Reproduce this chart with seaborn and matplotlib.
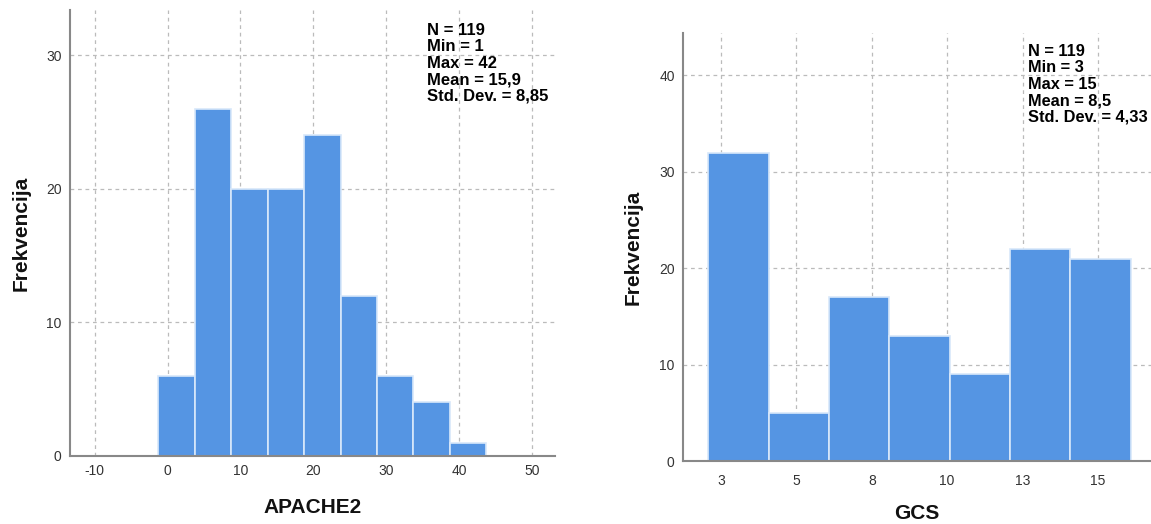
import numpy as np
import matplotlib
matplotlib.use("Agg")
import matplotlib.pyplot as plt
import seaborn as sns

sns.set_style("white")
plt.rcParams['font.family'] = ['Liberation Sans', 'DejaVu Sans']
plt.rcParams['axes.unicode_minus'] = False

# APACHE2 histogram (bin width 5)
apache_edges = [-1.25, 3.75, 8.75, 13.75, 18.75, 23.75, 28.75, 33.75, 38.75, 43.75]
apache_counts = [6, 26, 20, 20, 24, 12, 6, 4, 1]
apache_ticks = [-10, 0, 10, 20, 30, 40, 50]
apache_stats = "N = 119\nMin = 1\nMax = 42\nMean = 15,9\nStd. Dev. = 8,85"

# GCS histogram
gcs_edges = [2.6, 4.52, 6.44, 8.36, 10.28, 12.2, 14.12, 16.04]
gcs_counts = [32, 5, 17, 13, 9, 22, 21]
gcs_ticks = [3, 5.4, 7.8, 10.2, 12.6, 15]
gcs_ticklabels = ["3", "5", "8", "10", "13", "15"]
gcs_stats = "N = 119\nMin = 3\nMax = 15\nMean = 8,5\nStd. Dev. = 4,33"

bar_color = "#5595E3"
grid_kw = dict(color="#BBBBBB", linestyle=(0, (3, 3)), linewidth=0.9)

fig = plt.figure(figsize=(11.51, 5.24), dpi=100)
ax1 = fig.add_axes([0.0608, 0.130, 0.4214, 0.851])
ax2 = fig.add_axes([0.5934, 0.120, 0.4066, 0.817])


def draw(ax, edges, counts, xlim, ylim, xticks, yticks, xlabel, stats, stats_xy,
         stats_size, xpad, xlabelpad, ylabelpad, xticklabels=None):
    centers = [(edges[i] + edges[i + 1]) / 2 for i in range(len(counts))]
    sns.histplot(x=centers, weights=counts, bins=edges, ax=ax, color=bar_color,
                 alpha=1, edgecolor="#D8E8FA", linewidth=1.2, zorder=3)
    ax.set_xlim(*xlim)
    ax.set_ylim(*ylim)
    ax.set_xticks(xticks)
    if xticklabels is not None:
        ax.set_xticklabels(xticklabels)
    ax.set_yticks(yticks)
    ax.grid(True, **grid_kw)
    ax.set_axisbelow(True)
    for s in ["top", "right"]:
        ax.spines[s].set_visible(False)
    for s in ["left", "bottom"]:
        ax.spines[s].set_color("#888888")
        ax.spines[s].set_linewidth(1.5)
        ax.spines[s].set_zorder(4)
    ax.tick_params(length=0, labelsize=10, colors="#333333", pad=6)
    ax.tick_params(axis="x", pad=xpad)
    ax.set_xlabel(xlabel, fontsize=15, fontweight="bold", labelpad=xlabelpad, color="#111111")
    ax.set_ylabel("Frekvencija", fontsize=15, fontweight="bold", labelpad=ylabelpad,
                  color="#111111")
    ax.text(stats_xy[0], stats_xy[1], stats, transform=ax.transAxes, fontsize=stats_size,
            fontweight="bold", va="top", ha="left", linespacing=1.12, zorder=5,
            color="black")


draw(ax1, apache_edges, apache_counts, (-13.4, 53.2), (0, 33.4), apache_ticks,
     [0, 10, 20, 30], "APACHE2", apache_stats, (0.736, 0.971), 12, 6, 14, 11)
draw(ax2, gcs_edges, gcs_counts, (1.79, 16.69), (0, 44.4), gcs_ticks,
     [0, 10, 20, 30, 40], "GCS", gcs_stats, (0.737, 0.975), 11.8, 9, 12, 12,
     gcs_ticklabels)

fig.savefig("out.png", dpi=100)
